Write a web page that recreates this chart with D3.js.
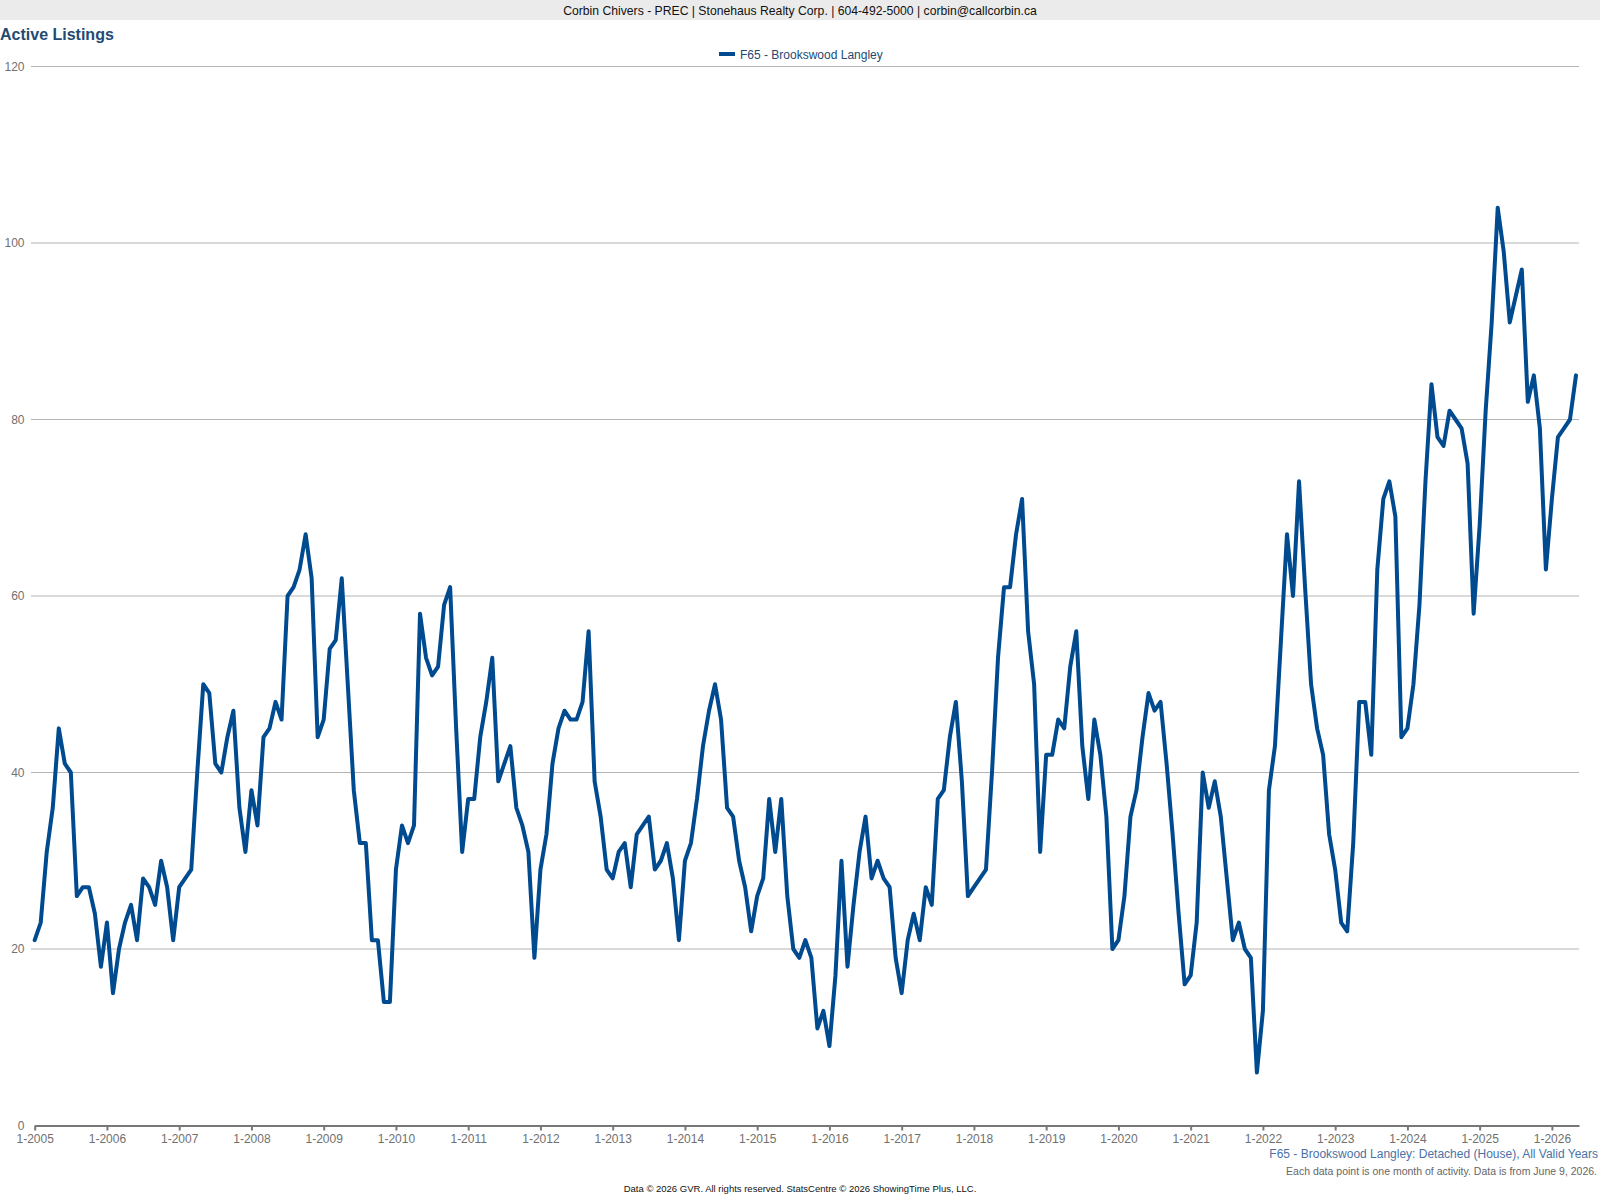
<!DOCTYPE html>
<html>
<head>
<meta charset="utf-8">
<script src="https://cdn.jsdelivr.net/npm/d3@7"></script>
<style>
  body { margin: 0; background: #fff; font-family: "Liberation Sans", Arial, sans-serif; }
  svg text { font-family: "Liberation Sans", Arial, sans-serif; }
</style>
</head>
<body>
<div id="chart"></div>
<script>
// monthly active listings, starting 1-2005
var startYear = 2005;
var activeListings = [
  21, 23, 31, 36, 45, 41, 40, 26, 27, 27, 24, 18,   // 2005
  23, 15, 20, 23, 25, 21, 28, 27, 25, 30, 27, 21,   // 2006
  27, 28, 29, 40, 50, 49, 41, 40, 44, 47, 36, 31,   // 2007
  38, 34, 44, 45, 48, 46, 60, 61, 63, 67, 62, 44,   // 2008
  46, 54, 55, 62, 50, 38, 32, 32, 21, 21, 14, 14,   // 2009
  29, 34, 32, 34, 58, 53, 51, 52, 59, 61, 45, 31,   // 2010
  37, 37, 44, 48, 53, 39, 41, 43, 36, 34, 31, 19,   // 2011
  29, 33, 41, 45, 47, 46, 46, 48, 56, 39, 35, 29,   // 2012
  28, 31, 32, 27, 33, 34, 35, 29, 30, 32, 28, 21,   // 2013
  30, 32, 37, 43, 47, 50, 46, 36, 35, 30, 27, 22,   // 2014
  26, 28, 37, 31, 37, 26, 20, 19, 21, 19, 11, 13,   // 2015
  9, 17, 30, 18, 25, 31, 35, 28, 30, 28, 27, 19,    // 2016
  15, 21, 24, 21, 27, 25, 37, 38, 44, 48, 39, 26,   // 2017
  27, 28, 29, 40, 53, 61, 61, 67, 71, 56, 50, 31,   // 2018
  42, 42, 46, 45, 52, 56, 43, 37, 46, 42, 35, 20,   // 2019
  21, 26, 35, 38, 44, 49, 47, 48, 41, 33, 24, 16,   // 2020
  17, 23, 40, 36, 39, 35, 28, 21, 23, 20, 19, 6,    // 2021
  13, 38, 43, 55, 67, 60, 73, 61, 50, 45, 42, 33,   // 2022
  29, 23, 22, 32, 48, 48, 42, 63, 71, 73, 69, 44,   // 2023
  45, 50, 59, 73, 84, 78, 77, 81, 80, 79, 75, 58,   // 2024
  68, 81, 91, 104, 99, 91, 94, 97, 82, 85, 79, 63,  // 2025
  71, 78, 79, 80, 85                                // 2026
];
var xTickLabels = ["1-2005", "1-2006", "1-2007", "1-2008", "1-2009", "1-2010", "1-2011",
  "1-2012", "1-2013", "1-2014", "1-2015", "1-2016", "1-2017", "1-2018", "1-2019",
  "1-2020", "1-2021", "1-2022", "1-2023", "1-2024", "1-2025", "1-2026"];
var yTicks = [0, 20, 40, 60, 80, 100, 120];
var seriesName = "F65 - Brookswood Langley";

var W = 1600, H = 1200;
var lineColor = "#004a8f";

var svg = d3.select("#chart").append("svg")
  .attr("width", W)
  .attr("height", H);

// header band
svg.append("rect")
  .attr("x", 0).attr("y", 0)
  .attr("width", W).attr("height", 20)
  .attr("fill", "#ebebeb");
svg.append("text")
  .attr("x", W / 2).attr("y", 14.5)
  .attr("text-anchor", "middle")
  .style("font-size", "12.2px")
  .attr("fill", "#111")
  .text("Corbin Chivers - PREC | Stonehaus Realty Corp. | 604-492-5000 | corbin@callcorbin.ca");

// title
svg.append("text")
  .attr("x", 0).attr("y", 40)
  .style("font-size", "16px")
  .style("font-weight", "bold")
  .attr("fill", "#234a73")
  .text("Active Listings");

// scales
var x = d3.scaleLinear()
  .domain([0, activeListings.length - 0.5])
  .range([34.7, 1579]);
var y = d3.scaleLinear()
  .domain([0, 120])
  .range([1125.5, 66.5]);

// gridlines
svg.append("g")
  .selectAll("line")
  .data(yTicks.filter(function (d) { return d > 0; }))
  .enter().append("line")
  .attr("x1", 31).attr("x2", 1579)
  .attr("y1", function (d) { return y(d); })
  .attr("y2", function (d) { return y(d); })
  .attr("stroke", "#b4b4b4")
  .attr("stroke-width", 1);

// y labels
svg.append("g")
  .selectAll("text")
  .data(yTicks)
  .enter().append("text")
  .attr("x", 24.5)
  .attr("y", function (d) { return y(d) + 4; })
  .attr("text-anchor", "end")
  .style("font-size", "12px")
  .attr("fill", "#707070")
  .text(function (d) { return d; });

// x axis
var xAxis = d3.axisBottom(x)
  .tickValues(xTickLabels.map(function (d, i) { return i * 12; }))
  .tickFormat(function (d, i) { return xTickLabels[i]; })
  .tickSizeInner(5)
  .tickSizeOuter(0);

var gx = svg.append("g")
  .attr("transform", "translate(0," + y(0) + ")")
  .call(xAxis);
gx.select(".domain")
  .attr("stroke", "#777")
  .attr("stroke-width", 2);
gx.selectAll(".tick line")
  .attr("stroke", "#777")
  .attr("stroke-width", 2);
gx.selectAll(".tick text")
  .attr("y", 9)
  .style("font-size", "12px")
  .style("font-family", "Liberation Sans, Arial, sans-serif")
  .attr("fill", "#707070");

// series line
var line = d3.line()
  .x(function (d, i) { return x(i); })
  .y(function (d) { return y(d); });

svg.append("path")
  .datum(activeListings)
  .attr("d", line)
  .attr("fill", "none")
  .attr("stroke", lineColor)
  .attr("stroke-width", 4)
  .attr("stroke-linejoin", "round")
  .attr("stroke-linecap", "round");

// legend
var legend = svg.append("g").attr("transform", "translate(719,54)");
legend.append("line")
  .attr("x1", 0).attr("x2", 16)
  .attr("y1", 0).attr("y2", 0)
  .attr("stroke", lineColor)
  .attr("stroke-width", 4);
legend.append("text")
  .attr("x", 21).attr("y", 4.5)
  .style("font-size", "12px")
  .attr("fill", "#234a73")
  .text(seriesName);

// footer
svg.append("text")
  .attr("x", 1598).attr("y", 1158)
  .attr("text-anchor", "end")
  .style("font-size", "12px")
  .attr("fill", "#4a72a6")
  .text(seriesName + ": Detached (House), All Valid Years");
svg.append("text")
  .attr("x", 1597).attr("y", 1175)
  .attr("text-anchor", "end")
  .style("font-size", "10.5px")
  .attr("fill", "#666")
  .text("Each data point is one month of activity. Data is from June 9, 2026.");
svg.append("text")
  .attr("x", 800).attr("y", 1192)
  .attr("text-anchor", "middle")
  .style("font-size", "9.5px")
  .attr("fill", "#111")
  .text("Data \u00a9 2026 GVR. All rights reserved. StatsCentre \u00a9 2026 ShowingTime Plus, LLC.");
</script>
</body>
</html>
